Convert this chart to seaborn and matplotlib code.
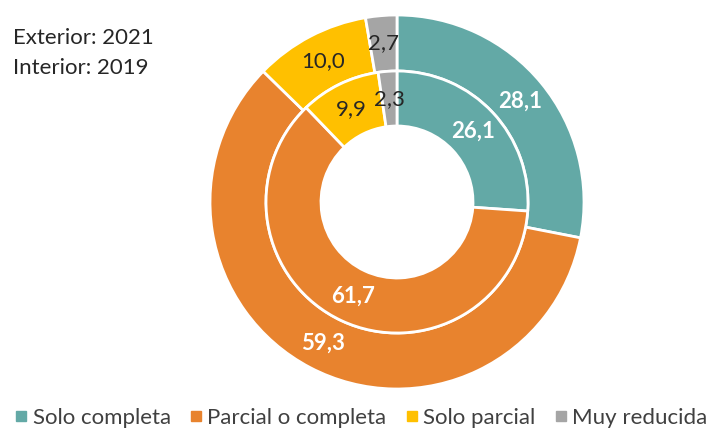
import numpy as np
import matplotlib
matplotlib.use("Agg")
import matplotlib.pyplot as plt
import seaborn as sns
from matplotlib.lines import Line2D

sns.set_style("white")
plt.rcParams['font.family'] = ['Lato', 'DejaVu Sans']

# data
categories = ["Solo completa", "Parcial o completa", "Solo parcial", "Muy reducida"]
exterior_2021 = [28.1, 59.3, 10.0, 2.7]
interior_2019 = [26.1, 61.7, 9.9, 2.3]
colors = ["#63A9A6", "#E8832E", "#FFC000", "#A5A5A5"]
label_colors = ["white", "white", "#262626", "#262626"]
label_weights = ["bold", "bold", "normal", "normal"]

W, H = 721, 430
fig = plt.figure(figsize=(W / 100, H / 100), dpi=100)

# pie area: centre (397, 202) px, outer radius 187 px
cx, cy, R = 397, 202, 187
ax = fig.add_axes([(cx - R) / W, (H - cy - R) / H, 2 * R / W, 2 * R / H])

r_mid = 131 / R
r_hole = 76 / R

wedge_kw = dict(edgecolor="white", linewidth=2)
outer, _ = ax.pie(exterior_2021, radius=1.0, colors=colors, startangle=90,
                  counterclock=False, wedgeprops=dict(width=1 - r_mid, **wedge_kw))
inner, _ = ax.pie(interior_2019, radius=r_mid, colors=colors, startangle=90,
                  counterclock=False, wedgeprops=dict(width=r_mid - r_hole, **wedge_kw))
ax.set_xlim(-1, 1)
ax.set_ylim(-1, 1)
ax.set_aspect("equal")


def add_labels(wedges, values, radius):
    for w, v, c, fw in zip(wedges, values, label_colors, label_weights):
        ang = np.deg2rad((w.theta1 + w.theta2) / 2)
        ax.text(radius * np.cos(ang), radius * np.sin(ang), f"{v:.1f}".replace(".", ","),
                ha="center", va="center", color=c, fontsize=16, fontweight=fw)


add_labels(outer, exterior_2021, (1 + r_mid) / 2)
add_labels(inner, interior_2019, (r_mid + r_hole) / 2)

fig.text(13 / W, 1 - 38 / H, "Exterior: 2021", fontsize=16, color="#262626", va="center")
fig.text(13 / W, 1 - 68 / H, "Interior: 2019", fontsize=16, color="#262626", va="center")

handles = [Line2D([], [], marker="s", linestyle="", markersize=7, color=c) for c in colors]
fig.legend(handles, categories, loc="center", bbox_to_anchor=(0.5, 1 - 418 / H), ncol=4,
           frameon=False, fontsize=16, handletextpad=0.15, columnspacing=0.8,
           handlelength=0.7, labelcolor="#404040")

fig.savefig("out.png", dpi=100)
